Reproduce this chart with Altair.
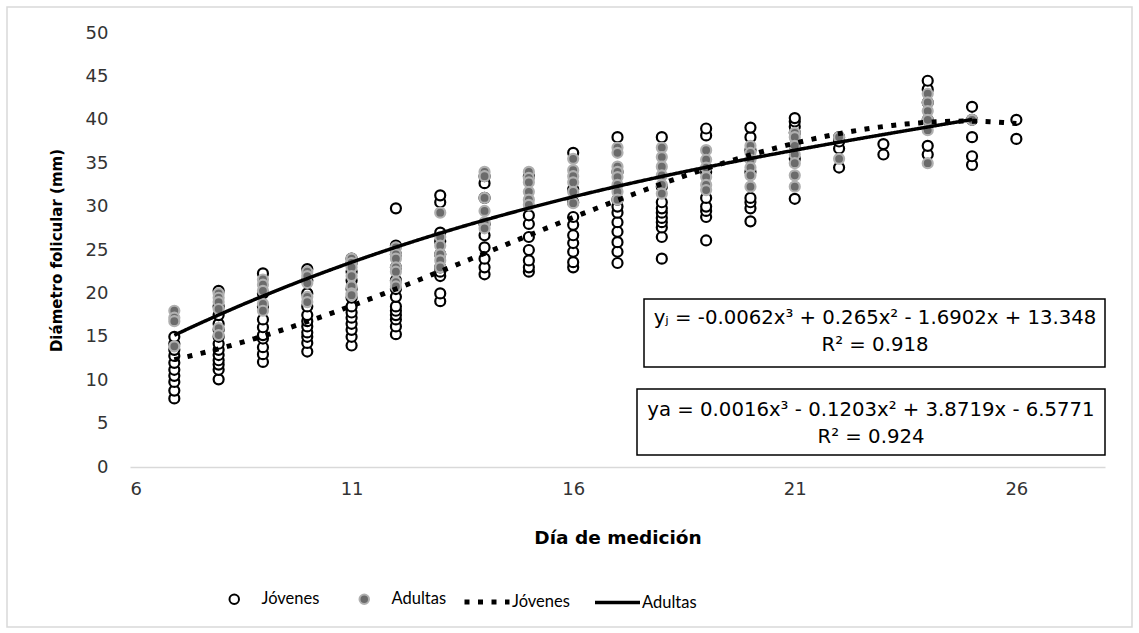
import altair as alt
import pandas as pd

# ---- data (día de medición -> diámetro folicular, mm) ----
jovenes = {
    7: [7.9, 8.8, 9.8, 10.5, 11.2, 12.0, 12.8, 13.5, 14.2, 15.0],
    8: [10.1, 11.2, 11.8, 12.3, 12.9, 13.5, 14.2, 15.0, 15.8, 16.5, 17.5, 18.5, 20.3],
    9: [12.1, 13.0, 13.8, 14.8, 15.2, 16.1, 17.0, 18.5, 20.0, 22.3],
    10: [13.3, 14.3, 15.0, 15.5, 16.2, 16.8, 17.5, 18.5, 20.0, 21.5, 22.8],
    11: [14.0, 15.0, 15.8, 16.5, 17.2, 17.8, 18.5, 19.5, 20.5, 21.5, 22.5, 23.5, 24.0],
    12: [15.3, 16.2, 17.0, 17.5, 18.0, 18.5, 19.6, 20.5, 21.5, 23.0, 24.5, 25.5, 29.8],
    13: [19.1, 20.0, 22.0, 22.5, 23.0, 24.5, 26.0, 27.0, 30.5, 31.3],
    14: [22.2, 23.0, 24.0, 25.3, 26.7, 28.0, 31.0, 32.7, 33.5],
    15: [22.5, 23.0, 23.8, 25.0, 26.5, 28.0, 29.0, 33.5],
    16: [23.0, 23.6, 24.8, 25.8, 26.7, 27.9, 28.8, 30.5, 32.0, 36.2],
    17: [23.5, 24.8, 25.9, 27.1, 28.2, 29.3, 30.0, 30.8, 34.0, 38.0],
    18: [24.0, 26.5, 27.6, 28.2, 28.7, 29.3, 29.8, 30.5, 32.3, 38.0],
    19: [26.1, 28.8, 29.5, 30.0, 31.0, 34.0, 38.2, 39.0],
    20: [28.3, 29.8, 30.5, 31.0, 34.0, 36.5, 38.0, 39.1],
    21: [30.9, 35.5, 37.0, 38.5, 39.2, 39.8, 40.2],
    22: [34.5, 36.7, 37.5, 38.0],
    23: [36.0, 37.2],
    24: [36.0, 37.0, 40.0, 42.0, 43.5, 44.5],
    25: [34.8, 35.8, 38.0, 40.0, 41.5],
    26: [37.8, 40.0],
}
adultas = {
    7: [18.0, 17.2, 16.8, 13.9],
    8: [20.0, 19.5, 19.0, 18.2, 16.0, 15.2],
    9: [21.6, 21.0, 20.3, 18.8, 18.0],
    10: [22.5, 22.0, 21.2, 19.6, 19.0],
    11: [24.0, 23.5, 23.0, 22.0, 20.8, 20.0, 19.8],
    12: [25.3, 24.5, 24.0, 23.0, 22.5, 21.3, 20.8],
    13: [29.3, 26.5, 25.5, 24.5, 23.8, 23.0],
    14: [34.0, 33.5, 31.0, 29.5, 28.2, 27.5],
    15: [34.0, 33.3, 32.8, 31.7, 30.8, 30.2],
    16: [35.5, 34.2, 33.5, 32.8, 31.7, 30.4],
    17: [36.8, 36.2, 34.6, 34.0, 33.4, 32.5, 31.7, 30.8],
    18: [36.8, 35.7, 34.6, 33.6, 32.5, 31.5],
    19: [36.5, 35.4, 34.5, 33.4, 32.5, 31.9],
    20: [37.0, 36.2, 35.4, 34.5, 33.6, 32.3],
    21: [38.5, 38.0, 37.0, 36.0, 35.0, 33.6, 32.3],
    22: [35.5, 38.0],
    24: [43.0, 42.0, 41.0, 40.0, 38.8, 35.0],
    25: [40.0],
}
grupos = ["Jóvenes", "Adultas"]
tendencias = ["tend_jov", "tend_adu"]
# polynomial trendlines printed on the chart: c0 + c1 x + c2 x^2 + c3 x^3
coef_jov = [13.348, -1.6902, 0.265, -0.0062]
coef_adu = [-6.5771, 3.8719, -0.1203, 0.0016]
rango_jov = [7, 26]
rango_adu = [7, 25]
x_ticks = [6, 11, 16, 21, 26]
y_ticks = [0, 5, 10, 15, 20, 25, 30, 35, 40, 45, 50]
eq_jov = ["yⱼ = -0.0062x³ + 0.265x² - 1.6902x + 13.348", "R² = 0.918"]
eq_adu = ["ya = 0.0016x³ - 0.1203x² + 3.8719x - 6.5771", "R² = 0.924"]

rows = []
for g, d in (("Jóvenes", jovenes), ("Adultas", adultas)):
    for dia, vals in d.items():
        for v in vals:
            rows.append({"dia": dia, "diam": v, "grupo": g})
df = pd.DataFrame(rows)

x_enc = alt.X("dia:Q",
              scale=alt.Scale(domain=[6, 28], nice=False, zero=False),
              axis=alt.Axis(values=x_ticks, title="Día de medición", ticks=False,
                            grid=False, domainColor="#d9d9d9", domainWidth=1.5,
                            labelPadding=13, titlePadding=30))
y_enc = alt.Y("diam:Q",
              scale=alt.Scale(domain=[0, 50], nice=False),
              axis=alt.Axis(values=y_ticks, title="Diámetro folicular (mm)", ticks=False,
                            grid=False, domain=False, labelPadding=22, titlePadding=21))

pt_legend = alt.Legend(title=None, orient="none", legendX=96, legendY=558,
                       direction="horizontal", symbolType="circle", symbolSize=90,
                       symbolStrokeWidth=2, labelFont="Lato", labelFontSize=16.5,
                       labelColor="#000000", labelOffset=19, columnPadding=35,
                       padding=0, labelBaseline="middle")

points = alt.Chart(df).mark_point(shape="circle", filled=True, size=100,
                                  strokeWidth=2.2, opacity=1).encode(
    x=x_enc,
    y=y_enc,
    fill=alt.Fill("grupo:N", scale=alt.Scale(domain=grupos, range=["#ffffff", "#6b6b6b"]),
                  legend=pt_legend),
    stroke=alt.Stroke("grupo:N", scale=alt.Scale(domain=grupos, range=["#000000", "#b0b0b0"]),
                      legend=pt_legend),
)

ln_legend = alt.Legend(title=None, orient="none", legendX=332, legendY=544,
                       direction="horizontal", symbolType="stroke", symbolSize=2025,
                       symbolStrokeColor="#000000", labelFont="Lato", labelFontSize=16.5,
                       labelColor="#000000", labelOffset=0, columnPadding=18,
                       padding=0, labelBaseline="middle",
                       labelExpr="datum.label == 'tend_jov' ? 'Jóvenes' : 'Adultas'")


def tendencia(coef, rango, clave):
    expr = (f"{coef[0]} + ({coef[1]})*datum.dia + ({coef[2]})*pow(datum.dia, 2)"
            f" + ({coef[3]})*pow(datum.dia, 3)")
    return alt.Chart(alt.sequence(rango[0], rango[1] + 0.001, 0.1, as_="dia")).transform_calculate(
        diam=expr, linea=f"'{clave}'"
    ).mark_line(color="#000000").encode(
        x="dia:Q",
        y="diam:Q",
        strokeDash=alt.StrokeDash("linea:N",
                                  scale=alt.Scale(domain=tendencias, range=[[5, 8.5], [1, 0]]),
                                  legend=ln_legend),
        strokeWidth=alt.StrokeWidth("linea:N",
                                    scale=alt.Scale(domain=tendencias, range=[5, 3.5]),
                                    legend=ln_legend),
    )


line_jov = tendencia(coef_jov, rango_jov, "tend_jov")
line_adu = tendencia(coef_adu, rango_adu, "tend_adu")

one = pd.DataFrame({"k": [0]})

frame = alt.Chart(one).mark_rect(filled=False, stroke="#d9d9d9", strokeWidth=1.5).encode(
    x=alt.value(-123), x2=alt.value(1002), y=alt.value(-26), y2=alt.value(594))

box1 = alt.Chart(one).mark_rect(fill="#ffffff", stroke="#000000", strokeWidth=1.5).encode(
    x=alt.value(514), x2=alt.value(975), y=alt.value(266), y2=alt.value(334))
box2 = alt.Chart(one).mark_rect(fill="#ffffff", stroke="#000000", strokeWidth=1.5).encode(
    x=alt.value(507), x2=alt.value(975), y=alt.value(356), y2=alt.value(422))


def eq_text(lines_, cx, cy):
    return alt.Chart(one).mark_text(font="DejaVu Sans", fontSize=19.7, color="#000000",
                                    align="center", baseline="middle", lineHeight=27,
                                    text=lines_).encode(x=alt.value(cx), y=alt.value(cy))


t1 = eq_text(eq_jov, 745, 285)
t2 = eq_text(eq_adu, 741, 377)

chart = alt.layer(frame, points, line_jov, line_adu, box1, box2, t1, t2).properties(
    width=975, height=434,
    padding={"left": 130, "top": 33, "right": 34, "bottom": 166},
    autosize=alt.AutoSizeParams(type="none"),
).configure_view(stroke=None).configure_axis(
    labelFont="DejaVu Sans", labelFontSize=18, labelColor="#333333",
    titleFont="DejaVu Sans", titleFontWeight="bold", titleColor="#000000",
).configure_axisX(titleFontSize=18.5).configure_axisY(titleFontSize=15)

chart.save("out.html", embed_options={"renderer": "svg", "actions": False})
